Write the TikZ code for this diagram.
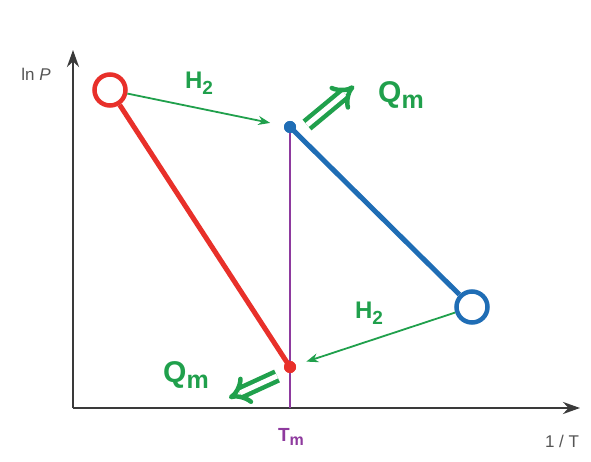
\documentclass[tikz,border=0pt]{standalone}
\usepackage{fontspec}
\setmainfont{Liberation Sans}
\usetikzlibrary{arrows.meta}
\definecolor{axisgray}{HTML}{3A3A3A}
\definecolor{txtgray}{HTML}{555555}
\definecolor{myred}{HTML}{E8302A}
\definecolor{myblue}{HTML}{1F6DB5}
\definecolor{mygreen}{HTML}{20A04C}
\definecolor{mypurple}{HTML}{8E3A9E}
\tikzset{
  axisline/.style={draw=axisgray, line width=2.6pt, -{Stealth[length=17pt,width=12pt]}},
  axlabel/.style={text=txtgray, font=\fontsize{17}{17}\selectfont, inner sep=0pt},
  ring/.style={circle, draw=#1, line width=4.5pt, minimum size=31pt, inner sep=0pt},
  dotnode/.style={circle, fill=#1, minimum size=12pt, inner sep=0pt},
  phase/.style={draw=#1, line width=5pt},
  flow/.style={draw=mygreen, line width=1.8pt, -{Stealth[length=12pt,width=9pt]}},
  heat/.style={draw=mygreen, line width=4.5pt, double=white, double distance=5pt, -{Implies[scale=1.5]}},
  greentxt/.style={text=mygreen, font=\bfseries\fontsize{24}{24}\selectfont, inner sep=0pt},
  qtxt/.style={text=mygreen, font=\bfseries\fontsize{30}{30}\selectfont, inner sep=0pt},
}
\begin{document}
\begin{tikzpicture}[x=1pt,y=-1pt]
\useasboundingbox (0,0) rectangle (591,462);
% axes
\coordinate (origin) at (73,408);
\coordinate (ytip) at (73,50);
\coordinate (xtip) at (580,408);
\draw[axisline] (origin) -- (ytip);
\draw[axisline] (origin) -- (xtip);
\node[axlabel] (lnp) at (36,74) {ln \textit{P}};
\node[axlabel] (invt) at (562,441) {1 / T};
% Tm line
\node[dotnode=myblue] (bdot) at (290,127) {};
\node[dotnode=myred] (rdot) at (290,367) {};
\coordinate (tmbase) at (290,408);
\draw[draw=mypurple, line width=1.6pt] (bdot.center) -- (tmbase);
\node[text=mypurple, font=\bfseries\fontsize{19}{19}\selectfont, inner sep=0pt] (tm) at (291,437) {T\raisebox{-4pt}{\fontsize{16}{16}\selectfont m}};
% circles
\node[ring=myred] (rc) at (110,90) {};
\node[ring=myblue] (bc) at (472,307) {};
\draw[phase=myred] (rc) -- (rdot.center);
\draw[phase=myblue] (bdot.center) -- (bc);
\node[dotnode=myblue] at (bdot) {};
\node[dotnode=myred] at (rdot) {};
% H2 flows
\draw[flow, shorten >=14pt] (rc) -- (bdot);
\draw[flow, shorten >=11pt] (bc) -- (rdot);
\node[greentxt] (h2a) at (199,83) {H\raisebox{-6pt}{\fontsize{19}{19}\selectfont 2}};
\node[greentxt] (h2b) at (369,313) {H\raisebox{-6pt}{\fontsize{19}{19}\selectfont 2}};
% heat arrows
\coordinate (qa1) at (307,125);
\coordinate (qa2) at (354,86);
\coordinate (qb1) at (277,376);
\coordinate (qb2) at (229,398);
\draw[heat] (qa1) -- (qa2);
\draw[heat] (qb1) -- (qb2);
\node[qtxt] (qma) at (401,95) {Q\raisebox{-6pt}{\fontsize{25}{25}\selectfont m}};
\node[qtxt] (qmb) at (186,375) {Q\raisebox{-6pt}{\fontsize{25}{25}\selectfont m}};
\end{tikzpicture}
\end{document}
